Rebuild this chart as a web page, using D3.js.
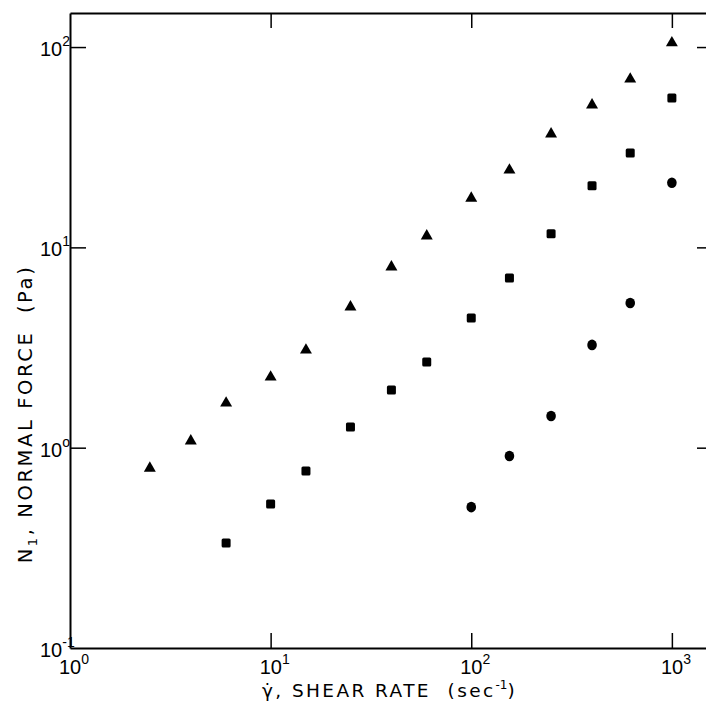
<!DOCTYPE html>
<html lang="en">
<head>
  <meta charset="UTF-8" />
  <title>Normal force vs shear rate</title>
  <script src="https://d3js.org/d3.v7.min.js"></script>
  <style>
    body {
      margin: 0;
      overflow: hidden;
      background: #fff;
    }
    text {
      font-family: "Liberation Sans", Arial, sans-serif;
      fill: #000;
      white-space: pre;
    }
    .title {
      font-family: "DejaVu Sans", sans-serif;
    }
    .axis path, .axis line {
      stroke: #000;
    }
  </style>
</head>
<body>
<svg width="706" height="704"></svg>
<script>
// shear rate (1/s) and N1 (Pa)
const triRate = [2.5, 4, 6, 10, 15, 25, 40, 60, 100, 155, 250, 400, 620, 1000];
const triN1   = [0.79, 1.08, 1.67, 2.25, 3.07, 5.04, 7.98, 11.4, 17.6, 24.3, 36.8, 51.4, 69.2, 105];

const sqRate = [6, 10, 15, 25, 40, 60, 100, 155, 250, 400, 620, 1000];
const sqN1   = [0.334, 0.524, 0.765, 1.27, 1.94, 2.68, 4.44, 7.04, 11.7, 20.3, 29.6, 55.7];

const cirRate = [100, 155, 250, 400, 620, 1000];
const cirN1   = [0.505, 0.909, 1.44, 3.26, 5.28, 21.0];

const xTicks = [1, 10, 100, 1000];
const xExp   = ["0", "1", "2", "3"];
const yTicks = [0.1, 1, 10, 100];
const yExp   = ["-1", "o", "1", "2"];

const svg = d3.select("svg");
const plotL = 70, plotR = 712, plotT = 13, plotB = 648;

const x = d3.scaleLog().domain([1, Math.pow(10, 3.2)]).range([plotL, plotR]);
const y = d3.scaleLog().domain([0.1, Math.pow(10, 2.17)]).range([plotB, plotT]);

// frame + inward ticks
function styleAxis(g) {
  g.attr("class", "axis");
  g.select(".domain").attr("stroke-width", 2);
  g.selectAll(".tick line").attr("stroke-width", 1.5);
  g.selectAll(".tick text").remove();
}
svg.append("g").attr("transform", `translate(0,${plotB})`)
  .call(d3.axisBottom(x).tickValues([10, 100, 1000]).tickSizeInner(-15).tickSizeOuter(0))
  .call(styleAxis);
svg.append("g").attr("transform", `translate(0,${plotT})`)
  .call(d3.axisTop(x).tickValues([10, 100, 1000]).tickSizeInner(-15).tickSizeOuter(0))
  .call(styleAxis);
svg.append("g").attr("transform", `translate(${plotL},0)`)
  .call(d3.axisLeft(y).tickValues([1, 10, 100]).tickSizeInner(-16).tickSizeOuter(0))
  .call(styleAxis);
svg.append("g").attr("transform", `translate(${plotR},0)`)
  .call(d3.axisRight(y).tickValues([1, 10, 100]).tickSizeInner(-15).tickSizeOuter(0))
  .call(styleAxis);

// tick labels as 10 with superscript
xTicks.forEach((v, i) => {
  const t = svg.append("text")
    .attr("x", x(v) - 11).attr("y", 674)
    .attr("font-size", 20);
  t.append("tspan").text("10");
  t.append("tspan").attr("dy", -10).attr("font-size", 14).text(xExp[i]);
});
yTicks.forEach((v, i) => {
  const t = svg.append("text")
    .attr("x", 40).attr("y", y(v) + 9)
    .attr("font-size", 20);
  t.append("tspan").text("10");
  t.append("tspan").attr("dy", -10).attr("font-size", 14).text(yExp[i]);
});

// axis titles
const xt = svg.append("text")
  .attr("class", "title")
  .attr("x", 262).attr("y", 697)
  .attr("font-size", 18.5)
  .attr("letter-spacing", 2.4);
xt.append("tspan").text("\u03B3\u0307, SHEAR RATE  (sec");
xt.append("tspan").attr("dy", -8).attr("font-size", 12).attr("letter-spacing", 0).text("-1");
xt.append("tspan").attr("dy", 8).text(")");

const yt = svg.append("text")
  .attr("class", "title")
  .attr("transform", `translate(32,414) rotate(-90)`)
  .attr("text-anchor", "middle")
  .attr("font-size", 19.5)
  .attr("letter-spacing", 2.6);
yt.append("tspan").text("N");
yt.append("tspan").attr("dy", 5).attr("font-size", 13).text("1");
yt.append("tspan").attr("dy", -5).text(", NORMAL FORCE  (Pa)");

// markers
const pts = (xs, ys) => xs.map((d, i) => [d, ys[i]]);

svg.append("g").selectAll("path")
  .data(pts(triRate, triN1))
  .join("path")
  .attr("transform", d => `translate(${x(d[0])},${y(d[1])})`)
  .attr("d", d3.symbol(d3.symbolTriangle, 62))
  .attr("fill", "#000");

svg.append("g").selectAll("rect")
  .data(pts(sqRate, sqN1))
  .join("rect")
  .attr("x", d => x(d[0]) - 4.5).attr("y", d => y(d[1]) - 4.5)
  .attr("width", 9).attr("height", 9).attr("rx", 1.5)
  .attr("fill", "#000");

svg.append("g").selectAll("ellipse")
  .data(pts(cirRate, cirN1))
  .join("ellipse")
  .attr("cx", d => x(d[0])).attr("cy", d => y(d[1]))
  .attr("rx", 4.8).attr("ry", 5.3)
  .attr("fill", "#000");
</script>
</body>
</html>
